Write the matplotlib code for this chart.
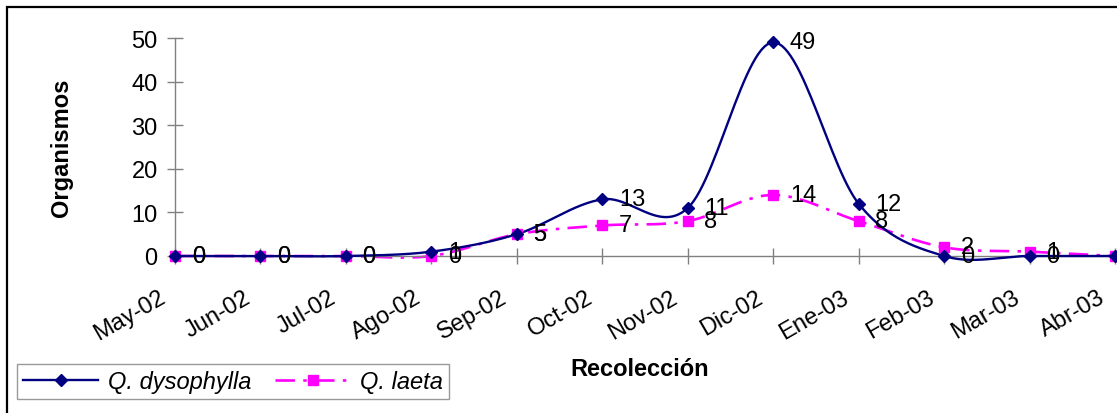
import numpy as np
import matplotlib
matplotlib.use("Agg")
import matplotlib.pyplot as plt
import matplotlib.patches as mpatches
import matplotlib.transforms as mtransforms

plt.rcParams["font.family"] = ["Liberation Sans", "DejaVu Sans"]
plt.rcParams["lines.scale_dashes"] = False

months = ["May-02", "Jun-02", "Jul-02", "Ago-02", "Sep-02", "Oct-02",
          "Nov-02", "Dic-02", "Ene-03", "Feb-03", "Mar-03", "Abr-03"]
dysophylla = [0, 0, 0, 1, 5, 13, 11, 49, 12, 0, 0, 0]
laeta = [0, 0, 0, 0, 5, 7, 8, 14, 8, 2, 1, 0]
y_ticks = [0, 10, 20, 30, 40, 50]

FS = 17
DASH = [14, 6, 2.5, 6]


def smooth(xs, ys, n=30):
    # Bezier smoothing like the spreadsheet "smoothed line" option
    xs = np.asarray(xs, float)
    ys = np.asarray(ys, float)
    px = np.concatenate([[xs[0]], xs, [xs[-1]]])
    py = np.concatenate([[ys[0]], ys, [ys[-1]]])
    out_x, out_y = [], []
    t = np.linspace(0, 1, n)
    for i in range(1, len(px) - 2):
        p0 = np.array([px[i], py[i]])
        p3 = np.array([px[i + 1], py[i + 1]])
        p1 = p0 + (np.array([px[i + 1], py[i + 1]]) - np.array([px[i - 1], py[i - 1]])) / 6
        p2 = p3 - (np.array([px[i + 2], py[i + 2]]) - np.array([px[i], py[i]])) / 6
        b = ((1 - t) ** 3)[:, None] * p0 + (3 * (1 - t) ** 2 * t)[:, None] * p1 \
            + (3 * (1 - t) * t ** 2)[:, None] * p2 + (t ** 3)[:, None] * p3
        out_x.extend(b[:, 0])
        out_y.extend(b[:, 1])
    return np.array(out_x), np.array(out_y)


W, H = 1117, 414
fig = plt.figure(figsize=(W / 100, H / 100), dpi=100)
ax = fig.add_axes([175 / W, 1 - 257 / H, 940 / W, 218 / H])

x = np.arange(len(months))
navy = "#000080"
magenta = "#FF00FF"

sx, sy = smooth(x, dysophylla)
ax.plot(sx, sy, color=navy, lw=1.7, clip_on=False, zorder=3)
ax.plot(x, dysophylla, ls="none", marker="D", ms=6.5, color=navy, clip_on=False, zorder=4)

sx, sy = smooth(x, laeta)
l2, = ax.plot(sx, sy, color=magenta, lw=1.9, clip_on=False, zorder=2)
l2.set_dashes(DASH)
ax.plot(x, laeta, ls="none", marker="s", ms=7.5, color=magenta, clip_on=False, zorder=3)

for xi, v in zip(x, dysophylla):
    ax.annotate(str(v), (xi, v), xytext=(12, 0), textcoords="offset points",
                ha="left", va="center", fontsize=FS, zorder=5, annotation_clip=False)
for xi, v in zip(x, laeta):
    ax.annotate(str(v), (xi, v), xytext=(12, 0), textcoords="offset points",
                ha="left", va="center", fontsize=FS, zorder=5, annotation_clip=False)

ax.set_xlim(0, 11)
ax.set_ylim(0, 50)
ax.set_xticks(x)
ax.set_xticklabels(months, rotation=30, ha="right", fontsize=FS)
ax.set_yticks(y_ticks)
ax.tick_params(axis="y", labelsize=FS, direction="inout", length=11, width=1,
               color="#808080", pad=7)
ax.tick_params(axis="x", labelsize=FS, direction="inout", length=11, width=1,
               color="#808080", pad=16)
offset = mtransforms.ScaledTranslation(-6 / 100, 0, fig.dpi_scale_trans)
for lab in ax.get_xticklabels():
    lab.set_transform(lab.get_transform() + offset)

for s in ["top", "right"]:
    ax.spines[s].set_visible(False)
for s in ["left", "bottom"]:
    ax.spines[s].set_color("#808080")
    ax.spines[s].set_linewidth(1)

fig.text(62 / W, 1 - 148 / H, "Organismos", rotation=90, fontsize=FS,
         fontweight="bold", ha="center", va="center")
fig.text(640 / W, 1 - 370 / H, "Recolección", fontsize=FS,
         fontweight="bold", ha="center", va="center")

h1 = plt.Line2D([], [], color=navy, lw=1.7, marker="D", ms=6.5)
h2 = plt.Line2D([], [], color=magenta, lw=1.9, marker="s", ms=7.5)
h2.set_dashes(DASH)
leg = fig.legend([h1, h2], ["Q. dysophylla", "Q. laeta"], loc="lower left",
                 bbox_to_anchor=(17 / W, 14 / H), borderaxespad=0, ncol=2,
                 fancybox=False, handlelength=3.2, columnspacing=1.0,
                 prop={"size": FS, "style": "italic"}, borderpad=0.25,
                 handletextpad=0.4, handleheight=0.6)
leg.get_frame().set_edgecolor("#808080")
leg.get_frame().set_linewidth(1)

border = mpatches.Rectangle((6.5 / W, -0.2), 1.2, 1.2 - 7.5 / H,
                            transform=fig.transFigure, fill=False,
                            edgecolor="black", lw=1.6, clip_on=False)
fig.patches.append(border)

fig.savefig("out.png", dpi=100)
